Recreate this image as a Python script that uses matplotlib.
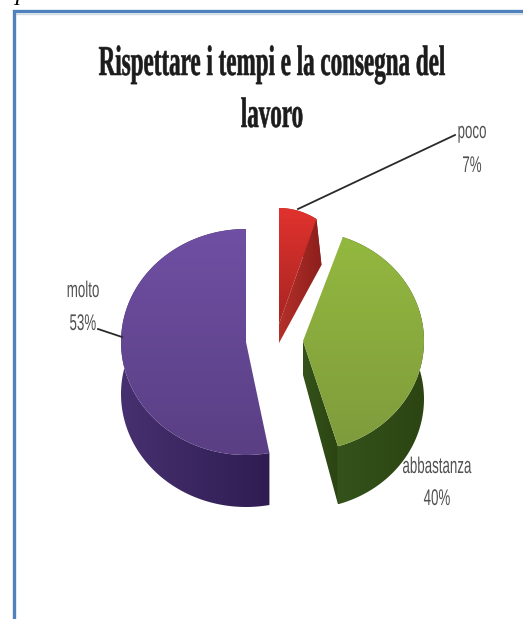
import numpy as np
import matplotlib
matplotlib.use('Agg')
from matplotlib import pyplot as plt
from matplotlib.colors import LinearSegmentedColormap
from matplotlib.patches import Polygon
from matplotlib.patheffects import AbstractPathEffect
from matplotlib.transforms import Affine2D

title_lines = ['Rispettare i tempi e la consegna del', 'lavoro']
categories = ['poco', 'abbastanza', 'molto']
shares = [7, 40, 53]

# geometry of each slice, in pixels (cx, cy, rx, ry, depth, tip depth, side shift, rotation)
geometry = {
    'poco': (279, 324, 88, 116, 46, 19, 5, 0),
    'abbastanza': (303, 341, 121, 110, 58, 34, 0, 6),
    'molto': (246, 342, 125, 113, 52, 52, 0, 0),
}
face_colors = {
    'poco': ('#e0322e', '#a82522'),
    'abbastanza': ('#93b83f', '#7f9c3c'),
    'molto': ('#6f4fa3', '#5a3f84'),
}
wall_colors = {
    'poco': ('#b5302a', '#8c1f1c'),
    'abbastanza': ('#34521a', '#2c4513'),
    'molto': ('#47306f', '#2f1d52'),
}
# label text position: (x, first baseline, second baseline)
label_pos = {
    'poco': (472, 138, 172),
    'abbastanza': (437, 473, 505),
    'molto': (83, 297, 330),
}
leaders = {
    'poco': ([455, 298], [135, 209]),
    'molto': ([98, 122], [329, 337]),
}


class Stretch(AbstractPathEffect):
    # tall narrow lettering: scale glyph outlines vertically about the baseline
    def __init__(self, k, stroke=0):
        super().__init__()
        self.k = k
        self.stroke = stroke

    def draw_path(self, renderer, gc, tpath, affine, rgbFace=None):
        gc0 = renderer.new_gc()
        gc0.copy_properties(gc)
        if self.stroke:
            gc0.set_linewidth(self.stroke)
            gc0.set_foreground(rgbFace)
        renderer.draw_path(gc0, tpath, Affine2D().scale(1, self.k) + affine, rgbFace)
        gc0.restore()


def arc(cx, cy, rx, ry, t0, t1):
    t = np.radians(np.linspace(t0, t1, 120))
    return np.column_stack([cx + rx * np.cos(t), cy - ry * np.sin(t)])


def shade(ax, pts, colors, vertical=True):
    # gradient image clipped to the polygon
    cmap = LinearSegmentedColormap.from_list('s', colors)
    x0, y0 = pts.min(axis=0)
    x1, y1 = pts.max(axis=0)
    g = np.linspace(0, 1, 64)
    g = g[:, None] if vertical else g[None, :]
    im = ax.imshow(g, cmap=cmap, extent=(x0, x1, y1, y0), aspect='auto', origin='upper',
                   interpolation='bilinear', zorder=3)
    im.set_clip_path(Polygon(pts, closed=True, transform=ax.transData))


fig = plt.figure(figsize=(5.23, 6.19), dpi=100)
ax = fig.add_axes([0, 0, 1, 1])

# outer frame, open on the right and at the bottom
ax.plot([14, 14, 523], [619, 11, 11], color='#4f81bd', lw=2.4, solid_joinstyle='miter', zorder=2)
ax.plot([14, 523], [13.5, 13.5], color='#d5dbe3', lw=1, zorder=1)

ax.text(17, 5, 'I', family='Liberation Serif', style='italic', fontsize=15, color='black', va='baseline', ha='center')

start = 90.0
for name, share in zip(categories, shares):
    sweep = share * 3.6
    t0, t1 = start, start - sweep
    start = t1
    cx, cy, rx, ry, depth, tip, dx, rot = geometry[name]
    edge = arc(cx, cy, rx, ry, t0 + rot, t1 + rot)
    shift = np.array([dx, depth])
    # outer wall, then the cut face at the end of the sweep, then the top face
    wall = np.vstack([edge, (edge + shift)[::-1]])
    shade(ax, wall, wall_colors[name], vertical=False)
    apex = np.array([cx, cy], dtype=float)
    cut = np.array([apex, edge[-1], edge[-1] + shift, apex + [0, tip]])
    shade(ax, cut, wall_colors[name], vertical=False)
    face = np.vstack([apex, edge])
    shade(ax, face, face_colors[name])

for name, (lx, ly) in leaders.items():
    ax.plot(lx, ly, color='#2a2a2a', lw=1.3, zorder=4)

for name, share in zip(categories, shares):
    x, y1, y2 = label_pos[name]
    for s, y in ((name, y1), ('%d%%' % share, y2)):
        ax.text(x, y, s, family='Liberation Sans', fontsize=9.6, color='#505050', ha='center', va='baseline',
                path_effects=[Stretch(1.7)], zorder=5)

for line, y in zip(title_lines, [75, 127]):
    ax.text(272, y, line, family='Liberation Serif', weight='bold', fontsize=16.6, color='#1c1c1c',
            ha='center', va='baseline', path_effects=[Stretch(1.85, stroke=0.4)], zorder=5)

ax.set_xlim(0, 523)
ax.set_ylim(619, 0)
ax.axis('off')
fig.savefig('out.png', dpi=100, facecolor='white')
